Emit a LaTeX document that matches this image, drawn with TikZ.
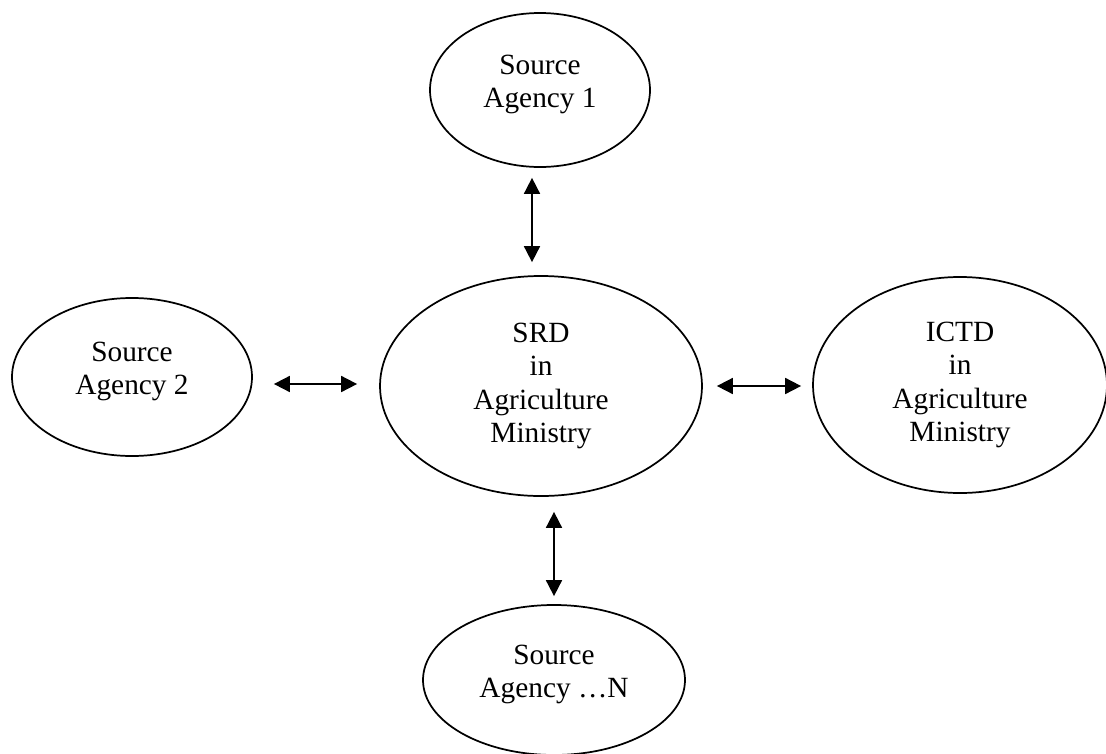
\documentclass[tikz,border=0pt]{standalone}
\usepackage{fontspec}
\setmainfont{Liberation Serif}
\usetikzlibrary{shapes.geometric,arrows.meta,calc}

\begin{document}
\begin{tikzpicture}[x=0.75pt,y=0.75pt,yscale=-1,xscale=1,
  agency/.style={draw,ellipse,line width=1.3pt,align=center,inner sep=0pt,font=\fontsize{22}{25}\selectfont},
  link/.style={line width=1.3pt,{Triangle[length=12pt,width=12pt]}-{Triangle[length=12pt,width=12pt]}}]
\useasboundingbox (0,0) rectangle (1106,753);

%Shape: Ellipse [centre]
\node [agency,minimum width=241.5pt,minimum height=165pt] (srd) at (541,386) {SRD\\in\\Agriculture\\Ministry};
%Shape: Ellipse [top]
\node [agency,minimum width=165pt,minimum height=115.5pt] (src1) at (540,90) {Source\\Agency 1\\[-12pt]\mbox{}};
%Shape: Ellipse [left]
\node [agency,minimum width=180pt,minimum height=118.5pt] (src2) at (132,377) {Source\\Agency 2\\[-12pt]\mbox{}};
%Shape: Ellipse [right]
\node [agency,minimum width=220.5pt,minimum height=162pt] (ictd) at (960,385) {ICTD\\in\\Agriculture\\Ministry};
%Shape: Ellipse [bottom]
\node [agency,minimum width=196.5pt,minimum height=112.5pt] (srcn) at (554,680) {Source\\Agency …N\\[-12pt]\mbox{}};

%Straight Lines
\draw [link] ($(src1.south)+(-8,10)$) -- ($(srd.north)+(-9,-13)$) ;
\draw [link] ($(src2.east)+(21,7)$) -- ($(srd.west)+(-22,-2)$) ;
\draw [link] ($(srd.east)+(14,0)$) -- ($(ictd.west)+(-11,1)$) ;
\draw [link] ($(srd.south)+(13,15)$) -- ($(srcn.north)+(0,-8)$) ;

\end{tikzpicture}
\end{document}
